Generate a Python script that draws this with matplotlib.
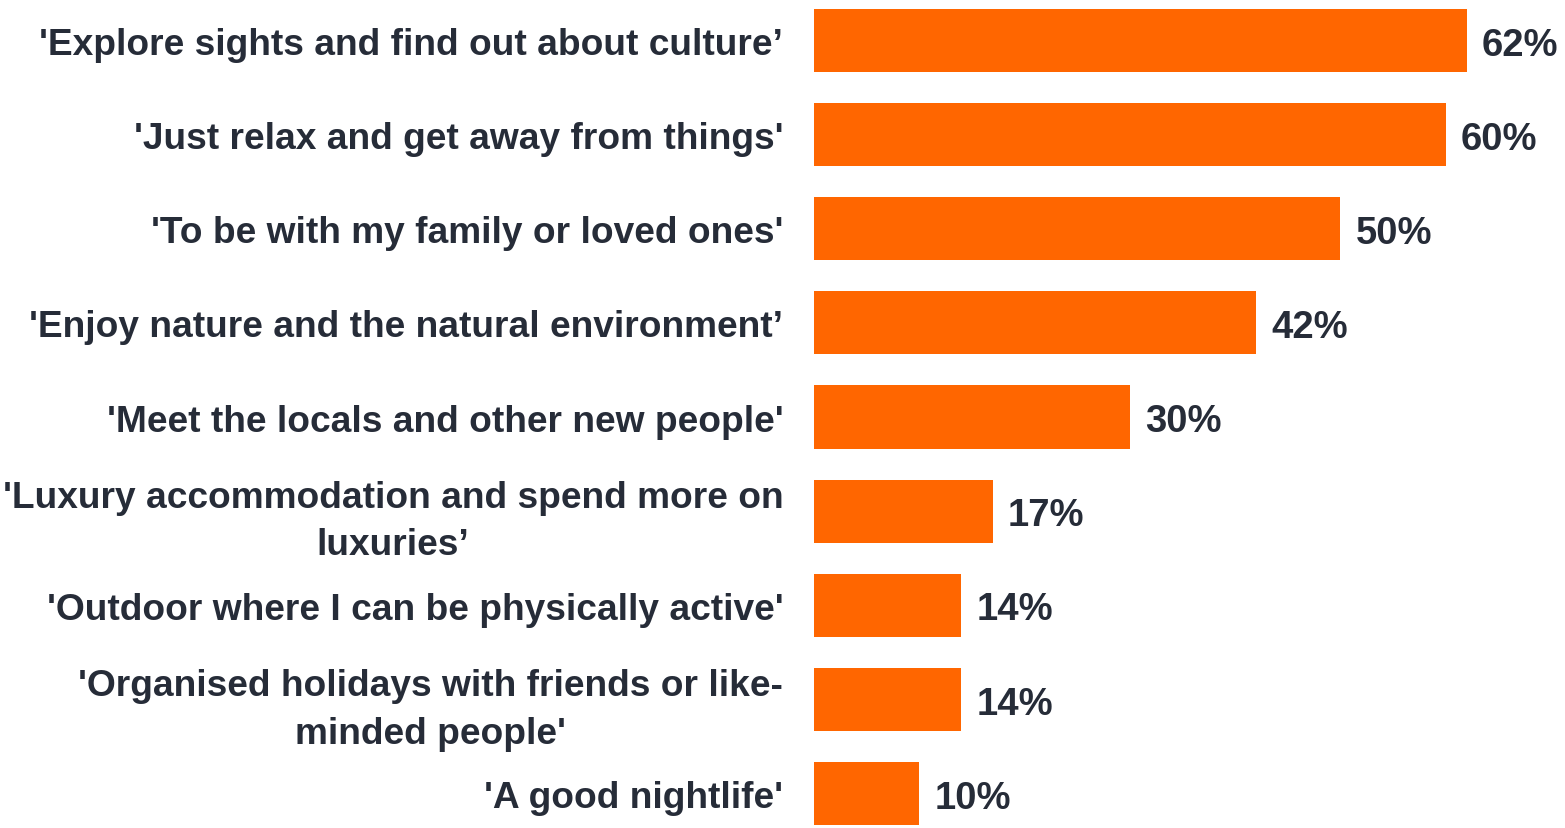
import matplotlib
matplotlib.use("Agg")
import matplotlib.pyplot as plt

categories = [
    "'Explore sights and find out about culture\u2019",
    "'Just relax and get away from things'",
    "'To be with my family or loved ones'",
    "'Enjoy nature and the natural environment\u2019",
    "'Meet the locals and other new people'",
    "'Luxury accommodation and spend more on\nluxuries\u2019",
    "'Outdoor where I can be physically active'",
    "'Organised holidays with friends or like-\nminded people'",
    "'A good nightlife'",
]
values = [62, 60, 50, 42, 30, 17, 14, 14, 10]

bar_color = "#FF6600"
text_color = "#262C38"

plt.rcParams['font.family'] = ['Liberation Sans', 'DejaVu Sans']

fig = plt.figure(figsize=(15.65, 8.29), dpi=100)
ax = fig.add_axes([0.520, 0.0, 0.471, 1.0])

pos = list(range(len(categories)))
ax.barh(pos, values, height=0.67, color=bar_color)

for y, v in zip(pos, values):
    ax.annotate(f"{v}%", (v, y), xytext=(11, -3), textcoords="offset points",
                ha="left", va="center", fontsize=27.5, fontweight="bold",
                color=text_color)

ax.set_xlim(0, 70)
ax.set_ylim(8.366, -0.441)
ax.set_yticks(pos)
ax.set_yticklabels(categories, fontsize=26.7, fontweight="bold", color=text_color,
                   multialignment="center", linespacing=1.45)
ax.tick_params(axis="y", length=0, pad=22)
ax.set_xticks([])
for s in ax.spines.values():
    s.set_visible(False)

fig.savefig("out.png", dpi=100)
